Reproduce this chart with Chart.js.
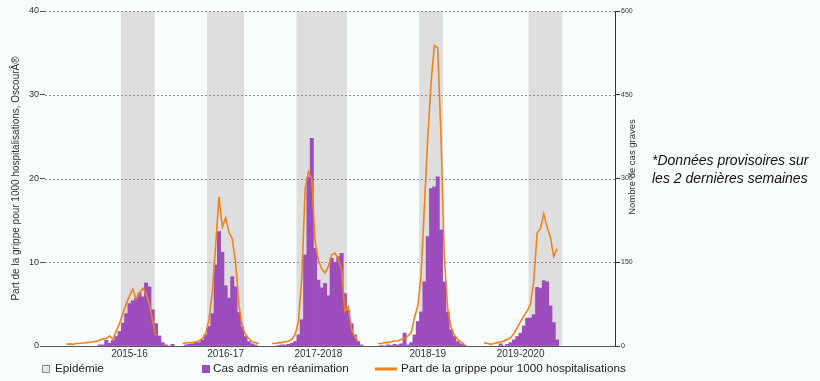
<!DOCTYPE html>
<html lang="fr">
<head>
<meta charset="utf-8">
<title>Grippe - hospitalisations et cas graves</title>
<script src="https://cdn.jsdelivr.net/npm/chart.js@4.4.0/dist/chart.umd.min.js"></script>
<style>
  html, body { margin: 0; padding: 0; background: #f8fcfc; }
  #wrap { position: relative; width: 820px; height: 381px; }
</style>
</head>
<body>
<div id="wrap"><canvas id="chart" width="820" height="381"></canvas></div>
<script>
// --- Weekly slots on the x axis (surveillance weeks, seasons put end to end) ---
const nWeeks = 172;
const seasonLabels = ['2015-16', '2016-17', '2017-2018', '2018-19', '2019-2020'];
const seasonLabelWeek = [25, 54, 82, 115, 143];
const epidemicWeeks = [[23, 32], [49, 59], [76, 90], [113, 119], [146, 155]];

// --- Part de la grippe pour 1000 hospitalisations (OSCOUR), per season ---
const oscourStart = [6, 41, 68, 100, 132];
const oscour1516 = [0.2, 0.25, 0.2, 0.3, 0.3, 0.35, 0.4, 0.45, 0.5, 0.55, 0.7, 0.85, 0.9, 1.2, 0.8,
  1.8, 2.7, 3.9, 5.0, 6.0, 6.8, 5.6, 6.3, 6.9, 6.3, 5.0, 3.0, 1.2];
const oscour1617 = [0.3, 0.35, 0.4, 0.4, 0.5, 0.6, 0.9, 1.5, 3.2, 6.5, 12.0, 17.8, 14.2, 15.3, 13.6,
  12.8, 10.0, 5.0, 2.3, 1.4, 0.9, 0.5, 0.4, 0.3];
const oscour1718 = [0.3, 0.3, 0.4, 0.4, 0.5, 0.6, 0.8, 1.4, 3.0, 8.2, 18.8, 20.8, 20.0, 12.5, 10.2,
  9.2, 8.7, 9.5, 10.9, 11.1, 10.4, 9.0, 4.2, 4.7, 2.0, 1.1, 0.5];
const oscour1819 = [0.3, 0.3, 0.4, 0.4, 0.5, 0.6, 0.6, 0.8, 0.9, 1.2, 1.6, 3.4, 4.8, 8.5, 16.8,
  24.8, 31.4, 35.9, 35.6, 25.0, 10.5, 4.5, 2.3, 1.3, 0.8, 0.5, 0.2];
const oscour1920 = [0.4, 0.3, 0.2, 0.3, 0.4, 0.5, 0.6, 0.8, 1.0, 1.5, 2.2, 2.9, 3.6, 4.2, 5.0,
  7.8, 13.5, 14.0, 15.8, 14.2, 13.0, 10.7, 11.6];

// --- Cas admis en réanimation (nombre de cas graves), per season ---
const reaStart = [16, 42, 70, 101, 137];
const rea1516 = [2, 2, 10, 5, 10, 17, 26, 41, 58, 76, 81, 86, 95, 88, 113, 106, 65, 40, 18, 6, 2, 0, 3];
const rea1617 = [2, 3, 4, 6, 6, 11, 20, 35, 58, 145, 205, 168, 108, 86, 124, 106, 60, 34, 17, 8, 4, 2];
const rea1718 = [1, 2, 2, 3, 5, 8, 20, 47, 163, 303, 372, 175, 118, 104, 112, 90, 157, 150, 160, 166,
  94, 64, 40, 20, 8, 2];
const rea1819 = [1, 0, 2, 1, 3, 2, 4, 23, 2, 6, 20, 44, 61, 115, 196, 282, 285, 303, 208, 115, 61,
  29, 17, 8, 4, 2];
const rea1920 = [4, 0, 3, 6, 11, 17, 23, 36, 50, 50, 56, 105, 103, 117, 115, 72, 42, 11];

const weeks = Array.from({ length: nWeeks }, (_, i) => i);

// spread each season's values onto the shared weekly axis
function place(starts, seasons) {
    const out = new Array(nWeeks).fill(null);
    seasons.forEach((vals, s) => vals.forEach((v, k) => { out[starts[s] + k] = v; }));
    return out;
}

const oscour = place(oscourStart, [oscour1516, oscour1617, oscour1718, oscour1819, oscour1920]);
const rea = place(reaStart, [rea1516, rea1617, rea1718, rea1819, rea1920]);
const epidemic = weeks.map(i => epidemicWeeks.some(([a, b]) => i >= a && i <= b) ? 40 : null);

const FONT = "'Liberation Sans', Arial, Helvetica, sans-serif";
Chart.defaults.font.family = FONT;
Chart.defaults.color = '#333';

// gridlines above the grey epidemic bands but under the bars, plus legend and side texts
const extras = {
    id: 'extras',
    afterDatasetDraw(chart, args) {
        if (args.index !== 0) return;
        const { ctx, chartArea: a, scales: { y } } = chart;
        ctx.save();
        ctx.strokeStyle = '#8e8e8e';
        ctx.lineWidth = 1;
        ctx.setLineDash([2, 2]);
        y.ticks.forEach(t => {
            if (t.value === 0) return;
            const py = Math.round(y.getPixelForValue(t.value)) + 0.5;
            ctx.beginPath();
            ctx.moveTo(a.left, py);
            ctx.lineTo(a.right, py);
            ctx.stroke();
        });
        ctx.restore();
    },
    afterDraw(chart) {
        const { ctx } = chart;
        const ds = chart.data.datasets;
        const ly = 369;
        ctx.save();

        // legend
        ctx.font = '11.7px ' + FONT;
        ctx.textBaseline = 'middle';

        ctx.fillStyle = '#e6e6e6';
        ctx.fillRect(42, ly - 4, 8, 8);
        ctx.strokeStyle = '#8a8a8a';
        ctx.lineWidth = 1;
        ctx.strokeRect(42.5, ly - 3.5, 7, 7);
        ctx.fillStyle = '#222';
        ctx.fillText(ds[0].label, 55, ly);

        ctx.fillStyle = ds[1].backgroundColor;
        ctx.fillRect(202, ly - 4, 8, 8);
        ctx.fillStyle = '#222';
        ctx.fillText(ds[1].label, 213, ly);

        ctx.strokeStyle = ds[2].borderColor;
        ctx.lineWidth = 3;
        ctx.beginPath();
        ctx.moveTo(375, ly);
        ctx.lineTo(397, ly);
        ctx.stroke();
        ctx.fillText(ds[2].label, 401, ly);

        // right axis title, read bottom to top
        ctx.save();
        ctx.translate(632.5, 167);
        ctx.rotate(-Math.PI / 2);
        ctx.font = '9.5px ' + FONT;
        ctx.textAlign = 'center';
        ctx.fillStyle = '#333';
        ctx.fillText('Nombre de cas graves', 0, 0);
        ctx.restore();

        // note on provisional data
        ctx.font = 'italic 14px ' + FONT;
        ctx.textBaseline = 'alphabetic';
        ctx.fillStyle = '#111';
        ctx.fillText('*Données provisoires sur', 652, 165);
        ctx.fillText('les 2 dernières semaines', 652, 183);
        ctx.restore();
    }
};

const ctx = document.getElementById('chart').getContext('2d');
new Chart(ctx, {
    data: {
        labels: weeks,
        datasets: [{
            type: 'bar',
            label: 'Epidémie',
            data: epidemic,
            yAxisID: 'y',
            backgroundColor: '#dedede',
            barPercentage: 1,
            categoryPercentage: 1,
            grouped: false,
            order: 3
        }, {
            type: 'bar',
            label: 'Cas admis en réanimation',
            data: rea,
            yAxisID: 'y1',
            backgroundColor: '#9c4dbb',
            barPercentage: 1,
            categoryPercentage: 1,
            grouped: false,
            order: 2
        }, {
            type: 'line',
            label: 'Part de la grippe pour 1000 hospitalisations',
            data: oscour,
            yAxisID: 'y',
            borderColor: '#f0821e',
            borderWidth: 1.6,
            pointRadius: 0,
            tension: 0,
            spanGaps: false,
            order: 1
        }]
    },
    options: {
        responsive: false,
        devicePixelRatio: 1,
        animation: false,
        layout: { padding: { top: 11, right: 177, bottom: 21, left: 0 } },
        plugins: { legend: { display: false }, tooltip: { enabled: false } },
        scales: {
            x: {
                type: 'category',
                offset: true,
                grid: { display: false, drawTicks: false },
                border: { display: true, color: '#555', width: 1 },
                ticks: {
                    autoSkip: false,
                    minRotation: 0,
                    maxRotation: 0,
                    padding: 2,
                    font: { size: 10 },
                    color: '#333',
                    callback: (v, i) => {
                        const k = seasonLabelWeek.indexOf(i);
                        return k >= 0 ? seasonLabels[k] : '';
                    }
                },
                afterFit: s => { s.height = 14; }
            },
            y: {
                position: 'left',
                min: 0,
                max: 40,
                ticks: { stepSize: 10, padding: 1, font: { size: 9 }, color: '#333' },
                grid: { drawOnChartArea: false, drawTicks: true, tickLength: 5, tickColor: '#555' },
                border: { display: false },
                title: {
                    display: true,
                    text: 'Part de la grippe pour 1000 hospitalisations, OscourÂ®',
                    font: { size: 10 },
                    color: '#333',
                    padding: { top: 10, bottom: 0 }
                },
                afterFit: s => { s.width = 45; }
            },
            y1: {
                position: 'right',
                min: 0,
                max: 600,
                ticks: { stepSize: 150, padding: 1, font: { size: 7 }, color: '#333' },
                grid: { drawOnChartArea: false, drawTicks: true, tickLength: 5, tickColor: '#333' },
                border: { display: true, color: '#333', width: 1 },
                afterFit: s => { s.width = 28; }
            }
        }
    },
    plugins: [extras]
});
</script>
</body>
</html>
